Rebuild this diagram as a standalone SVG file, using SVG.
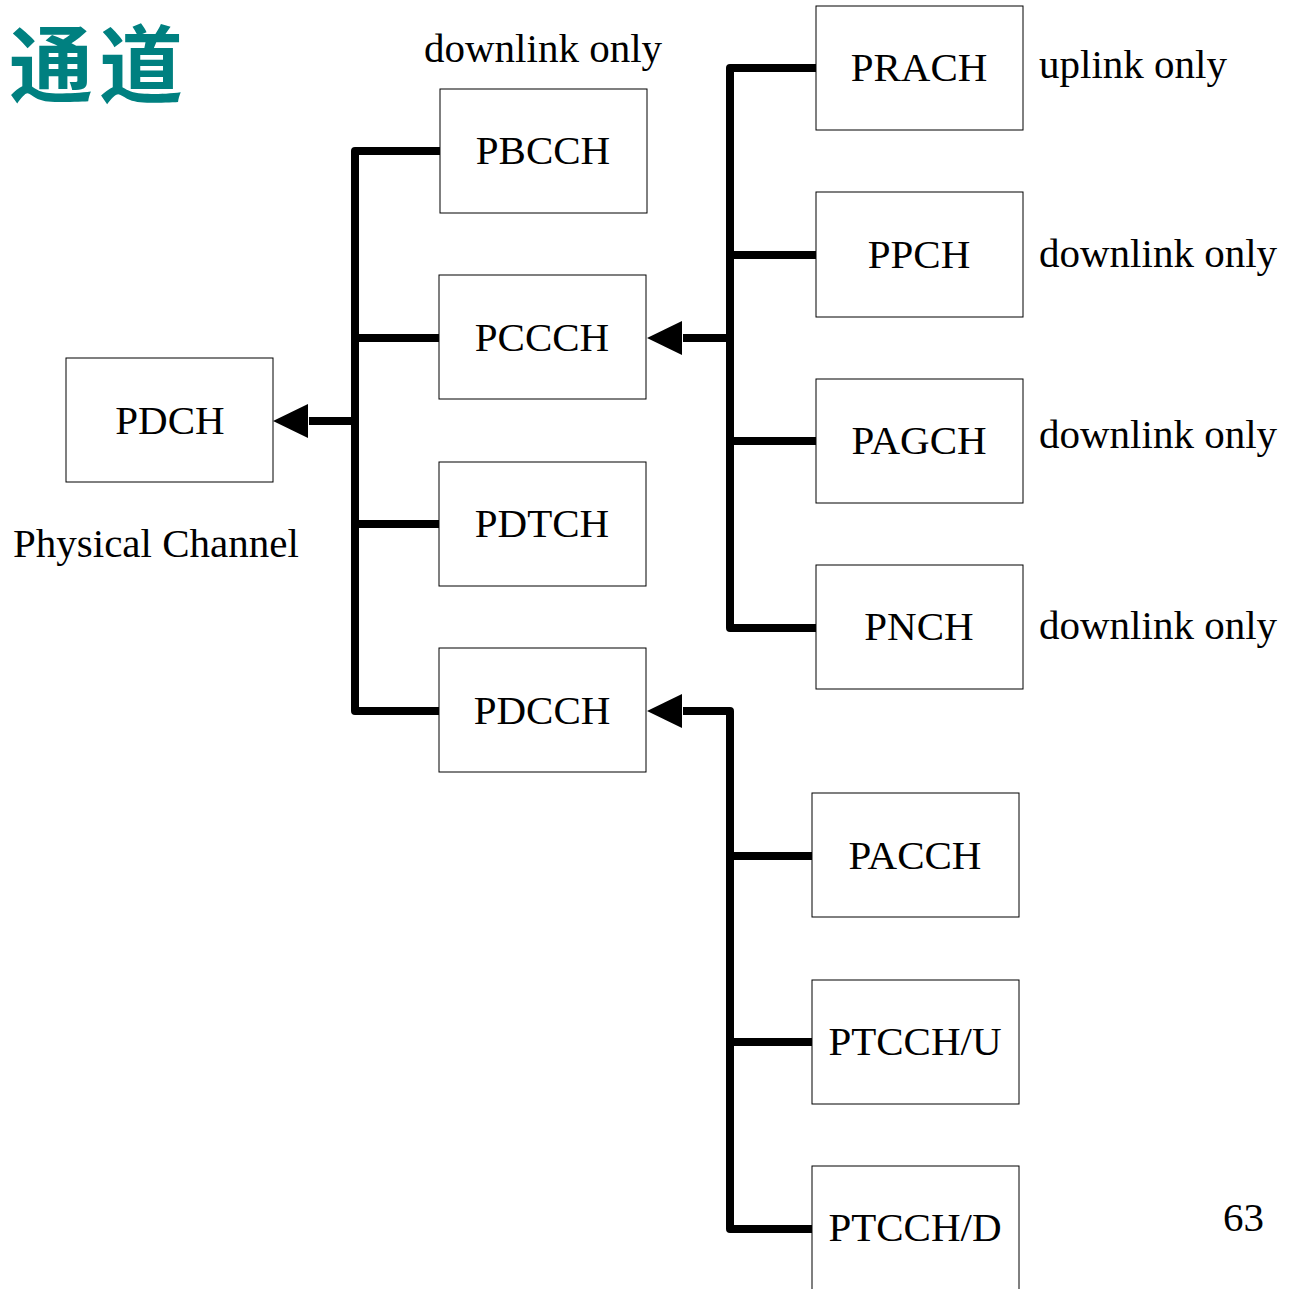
<svg xmlns="http://www.w3.org/2000/svg" width="1295" height="1289" viewBox="0 0 1295 1289">
<defs>
<style>
.box{fill:#fff;stroke:#000;stroke-width:1}
.t{font-family:"Liberation Serif","Times New Roman",serif;font-size:41px;fill:#000}
.c{text-anchor:middle}
.w{fill:none;stroke:#000;stroke-width:8;stroke-linejoin:round}
</style>
</defs>
<rect width="1295" height="1289" fill="#fff"/>
<text x="9" y="96" font-family="'Noto Sans CJK SC','Noto Sans CJK TC',sans-serif" font-size="84" font-weight="bold" letter-spacing="6" fill="#008080">通道</text>
<g id="connectors">
<path class="w" d="M441,151 H355 V711 H441"/>
<path class="w" d="M352,338 H441 M352,524 H441"/>
<path class="w" d="M355,421 H309"/>
<path d="M273,421 L308,404 L308,438 z"/>
<path class="w" d="M820,68 H730 V628 H820"/>
<path class="w" d="M730,255 H820 M730,441 H820"/>
<path class="w" d="M730,338 H683"/>
<path d="M647,338 L682,321 L682,355 z"/>
<path class="w" d="M683,711 H730 V1229 H814"/>
<path class="w" d="M726,856 H814 M726,1042 H814"/>
<path d="M647,711 L682,694 L682,728 z"/>
</g>
<g id="PDCH"><rect class="box" x="66" y="358" width="207" height="124"/><text class="t c" x="170" y="434">PDCH</text></g>
<g id="PBCCH"><rect class="box" x="440" y="89" width="207" height="124"/><text class="t c" x="543" y="164">PBCCH</text></g>
<g id="PCCCH"><rect class="box" x="439" y="275" width="207" height="124"/><text class="t c" x="542" y="351">PCCCH</text></g>
<g id="PDTCH"><rect class="box" x="439" y="462" width="207" height="124"/><text class="t c" x="542" y="537">PDTCH</text></g>
<g id="PDCCH"><rect class="box" x="439" y="648" width="207" height="124"/><text class="t c" x="542" y="724">PDCCH</text></g>
<g id="PRACH"><rect class="box" x="816" y="6" width="207" height="124"/><text class="t c" x="919" y="81">PRACH</text></g>
<g id="PPCH"><rect class="box" x="816" y="192" width="207" height="125"/><text class="t c" x="919" y="268">PPCH</text></g>
<g id="PAGCH"><rect class="box" x="816" y="379" width="207" height="124"/><text class="t c" x="919" y="454">PAGCH</text></g>
<g id="PNCH"><rect class="box" x="816" y="565" width="207" height="124"/><text class="t c" x="919" y="640">PNCH</text></g>
<g id="PACCH"><rect class="box" x="812" y="793" width="207" height="124"/><text class="t c" x="915" y="869">PACCH</text></g>
<g id="PTCCH_U"><rect class="box" x="812" y="980" width="207" height="124"/><text class="t c" x="915" y="1055">PTCCH/U</text></g>
<g id="PTCCH_D"><rect class="box" x="812" y="1166" width="207" height="130"/><text class="t c" x="915" y="1241">PTCCH/D</text></g>
<text class="t" x="424" y="62">downlink only</text>
<text class="t" x="13" y="557">Physical Channel</text>
<text class="t" x="1039" y="78">uplink only</text>
<text class="t" x="1039" y="267">downlink only</text>
<text class="t" x="1039" y="448">downlink only</text>
<text class="t" x="1039" y="639">downlink only</text>
<text class="t" x="1223" y="1231" font-size="36">63</text>
</svg>
